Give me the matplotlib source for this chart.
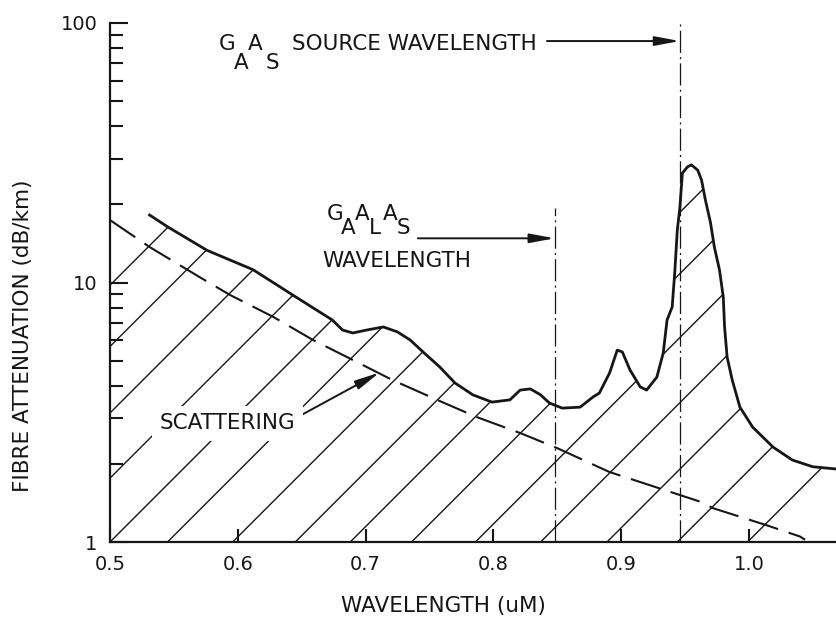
import matplotlib
matplotlib.use("Agg")
import matplotlib.pyplot as plt
from matplotlib.patches import Polygon
from matplotlib.transforms import IdentityTransform

# ---------------- data ----------------
attn_wl = [0.531, 0.545, 0.576, 0.612, 0.643, 0.674, 0.682, 0.690, 0.701, 0.714,
           0.725, 0.735, 0.745, 0.758, 0.770, 0.784, 0.799, 0.813, 0.821, 0.829,
           0.837, 0.844, 0.854, 0.868, 0.878, 0.883, 0.891, 0.897, 0.901, 0.907,
           0.915, 0.920, 0.928, 0.933, 0.936, 0.940, 0.942, 0.944, 0.946, 0.948,
           0.952, 0.955, 0.960, 0.963, 0.966, 0.970, 0.973, 0.977, 0.980, 0.981,
           0.983, 0.987, 0.993, 1.003, 1.019, 1.034, 1.050, 1.069]
attn_db = [18.2, 16.4, 13.3, 11.2, 8.95, 7.17, 6.56, 6.39, 6.56, 6.74,
           6.45, 6.00, 5.40, 4.73, 4.10, 3.69, 3.46, 3.53, 3.85, 3.89,
           3.69, 3.43, 3.28, 3.31, 3.62, 3.75, 4.48, 5.49, 5.40, 4.60,
           3.96, 3.85, 4.32, 5.35, 7.17, 8.05, 10.9, 15.9, 19.4, 26.4,
           27.9, 28.4, 27.1, 24.8, 20.8, 17.0, 13.7, 11.2, 8.79, 6.74,
           5.16, 4.21, 3.31, 2.77, 2.32, 2.07, 1.95, 1.91]

scat_wl = [0.500, 0.531, 0.570, 0.594, 0.628, 0.659, 0.690, 0.721, 0.756, 0.787,
           0.821, 0.850, 0.891, 0.930, 0.962, 0.972, 1.014, 1.040, 1.044]
scat_db = [17.4, 13.7, 10.5, 8.95, 7.36, 6.00, 5.03, 4.21, 3.53, 3.03,
           2.63, 2.30, 1.86, 1.61, 1.43, 1.35, 1.16, 1.05, 1.02]

x_ticks = [0.5, 0.6, 0.7, 0.8, 0.9, 1.0]
x_tick_labels = ["0.5", "0.6", "0.7", "0.8", "0.9", "1.0"]
y_ticks = [1, 10, 100]
y_tick_labels = ["1", "10", "100"]

gaalas_wl = 0.848
gaas_wl = 0.946

# baseline crossings (wavelength) of the hand-drawn 45 degree hatch lines
hatch_wl = [0.299, 0.347, 0.399, 0.450, 0.500, 0.545, 0.596, 0.645, 0.688,
            0.736, 0.786, 0.837, 0.889, 0.944, 0.999]

INK = "#161616"
FS = 15.5

plt.rcParams["font.family"] = ["DejaVu Sans"]
plt.rcParams["lines.scale_dashes"] = False

fig = plt.figure(figsize=(8.37, 6.2), dpi=100)
fig.patch.set_facecolor("white")
ax = fig.add_axes([110 / 837, 78 / 620, 727 / 837, 519 / 620])
ax.set_yscale("log")
ax.set_xlim(0.5, 1.069)
ax.set_ylim(1, 100)

for s in ("top", "right"):
    ax.spines[s].set_visible(False)
for s in ("left", "bottom"):
    ax.spines[s].set_linewidth(1.6)
    ax.spines[s].set_color(INK)

ax.set_xticks(x_ticks)
ax.set_xticklabels(x_tick_labels)
ax.set_yticks(y_ticks)
ax.set_yticklabels(y_tick_labels)
ax.tick_params(axis="x", direction="in", length=9.5, width=1.5, pad=9,
               labelsize=14, colors=INK)
ax.tick_params(axis="y", which="major", direction="in", length=13, width=1.5,
               pad=9, labelsize=14, colors=INK)
ax.tick_params(axis="y", which="minor", direction="in", length=9, width=1.5,
               colors=INK)
ax.minorticks_on()
ax.tick_params(axis="x", which="minor", bottom=False)
ax.yaxis.set_minor_formatter(plt.NullFormatter())

# ---------------- hatched region ----------------
verts = [(attn_wl[-1], 1.0), (scat_wl[0], 1.0), (scat_wl[0], scat_db[0])]
verts += list(zip(attn_wl, attn_db))
clip_poly = Polygon(verts, closed=True, transform=ax.transData,
                    facecolor="none", edgecolor="none")
ax.add_patch(clip_poly)

fig.canvas.draw()
for w in hatch_wl:
    x0, y0 = ax.transData.transform((w, 1.0))
    L = 900
    ln, = ax.plot([x0, x0 + L], [y0, y0 + L], transform=IdentityTransform(),
                  color=INK, lw=1.0, solid_capstyle="butt", zorder=2)
    ln.set_clip_path(clip_poly)

# ---------------- curves ----------------
ax.plot(scat_wl, scat_db, color=INK, lw=1.5, linestyle=(0, (22, 8)), zorder=3)
ax.plot(attn_wl, attn_db, color=INK, lw=2.0, zorder=4, solid_joinstyle="round")

# source wavelength markers
ax.plot([gaalas_wl, gaalas_wl], [1, 19.4], color=INK, lw=0.9,
        linestyle=(0, (16, 3, 1.5, 3)), zorder=3)
ax.plot([gaas_wl, gaas_wl], [1, 102.7], color=INK, lw=0.9,
        linestyle=(0, (16, 3, 1.5, 3)), zorder=3, clip_on=False)

arrow_kw = dict(arrowstyle="-|>,head_length=0.75,head_width=0.14",
                color=INK, lw=1.4, shrinkA=0, shrinkB=0, mutation_scale=20)
ax.annotate("", xy=(gaalas_wl, 14.8), xytext=(0.741, 14.8),
            arrowprops=arrow_kw, annotation_clip=False)
ax.annotate("", xy=(gaas_wl, 85.2), xytext=(0.842, 85.2),
            arrowprops=arrow_kw, annotation_clip=False)
ax.annotate("", xy=(0.711, 4.50), xytext=(0.650, 3.09),
            arrowprops=arrow_kw, annotation_clip=False, zorder=5)

# ---------------- labels ----------------
tk = dict(color=INK, fontsize=FS, ha="center", va="center", zorder=6)
# GaAs SOURCE WAVELENGTH
ax.text(0.5919, 83.0, "G", **tk)
ax.text(0.6025, 70.4, "A", **tk)
ax.text(0.6135, 83.0, "A", **tk)
ax.text(0.6272, 70.4, "S", **tk)
ax.text(0.6424, 83.0, "SOURCE WAVELENGTH", color=INK, fontsize=FS,
        ha="left", va="center")
# GaAlAs WAVELENGTH
ax.text(0.6758, 18.37, "G", **tk)
ax.text(0.6862, 16.22, "A", **tk)
ax.text(0.6972, 18.37, "A", **tk)
ax.text(0.7074, 16.22, "L", **tk)
ax.text(0.7195, 18.37, "A", **tk)
ax.text(0.7300, 16.22, "S", **tk)
ax.text(0.7243, 12.1, "WAVELENGTH", **tk)
# scattering
ax.text(0.592, 2.87, "SCATTERING", color=INK, fontsize=FS, ha="center",
        va="center", zorder=6,
        bbox=dict(boxstyle="square,pad=0.35", fc="white", ec="none"))

fig.text(443 / 837, (620 - 606) / 620, "WAVELENGTH (uM)", color=INK,
         fontsize=FS, ha="center", va="center")
fig.text(23 / 837, (620 - 336) / 620, "FIBRE ATTENUATION (dB/km)", color=INK,
         fontsize=FS, ha="center", va="center", rotation=90)

fig.savefig("out.png", dpi=100, facecolor="white")
